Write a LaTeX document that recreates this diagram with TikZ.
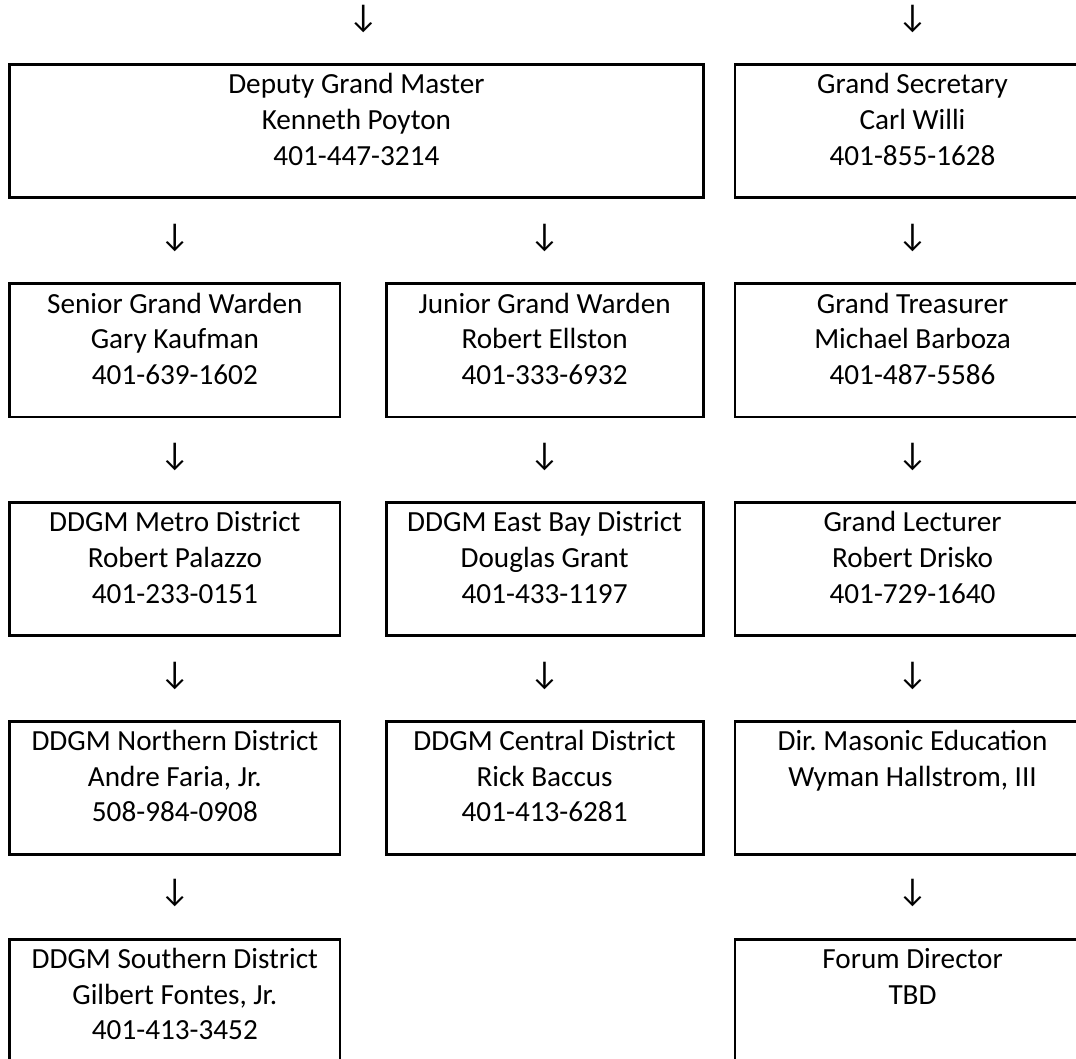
\documentclass[tikz,border=0pt]{standalone}
\usepackage{fontspec}
\setmainfont{Carlito}
\usetikzlibrary{positioning}
\frenchspacing

\newcommand{\officefont}{\fontsize{29.2pt}{35.6pt}\selectfont}

\tikzset{
	office/.style={draw, line width=2.8pt, align=center, inner sep=0pt, text height=100.4pt, text depth=32.6pt, font=\officefont},
	short/.style={office, text height=64.8pt, text depth=68.2pt},
	arr/.style={inner sep=0pt, font=\fontsize{33pt}{38pt}\selectfont},
}

\begin{document}
\begin{tikzpicture}
	\useasboundingbox (0,0) rectangle (1076pt,-1059pt);
	\clip (0,0) rectangle (1076pt,-1059pt);
	% top row
	\node[office, minimum width=693.4pt, anchor=north west] (dgm) at (8.3pt,-63.3pt) {Deputy Grand Master\\Kenneth Poyton\\401-447-3214};
	\node[office, minimum width=355.3pt, right=29pt of dgm] (gs) {Grand Secretary\\Carl Willi\\401-855-1628};
	% wardens and treasurer
	\node[office, minimum width=330.3pt, below right=83.4pt and 0pt of dgm.south west] (sgw) {Senior Grand Warden\\Gary Kaufman\\401-639-1602};
	\node[office, minimum width=317pt, below left=83.4pt and 0pt of dgm.south east] (jgw) {Junior Grand Warden\\Robert Ellston\\401-333-6932};
	\node[office, minimum width=355.3pt, below=83.4pt of gs] (gt) {Grand Treasurer\\Michael Barboza\\401-487-5586};
	% districts
	\node[office, minimum width=330.3pt, below=83pt of sgw] (metro) {DDGM Metro District\\Robert Palazzo\\401-233-0151};
	\node[office, minimum width=317pt, below=83pt of jgw] (eastbay) {DDGM East Bay District\\Douglas Grant\\401-433-1197};
	\node[office, minimum width=355.3pt, below=83pt of gt] (gl) {Grand Lecturer\\Robert Drisko\\401-729-1640};
	\node[office, minimum width=330.3pt, below=83pt of metro] (northern) {DDGM Northern District\\Andre Faria, Jr.\\508-984-0908};
	\node[office, minimum width=317pt, below=83pt of eastbay] (central) {DDGM Central District\\Rick Baccus\\401-413-6281};
	\node[short, minimum width=355.3pt, below=83pt of gl] (dme) {Dir. Masonic Education\\Wyman Hallstrom, III};
	\node[office, minimum width=330.3pt, below=82pt of northern] (southern) {DDGM Southern District\\Gilbert Fontes, Jr.\\401-413-3452};
	\node[short, minimum width=355.3pt, below=82pt of dme] (forum) {Forum Director\\TBD};
	% arrows
	\node[arr, above=30.5pt of dgm, xshift=7pt] (to-dgm) {↓};
	\node[arr, above=30.5pt of gs] (to-gs) {↓};
	\node[arr, above=30.5pt of sgw] (to-sgw) {↓};
	\node[arr, above=30.5pt of jgw] (to-jgw) {↓};
	\node[arr, above=30.5pt of gt] (to-gt) {↓};
	\node[arr, above=30.5pt of metro] (to-metro) {↓};
	\node[arr, above=30.5pt of eastbay] (to-eastbay) {↓};
	\node[arr, above=30.5pt of gl] (to-gl) {↓};
	\node[arr, above=30.5pt of northern] (to-northern) {↓};
	\node[arr, above=30.5pt of central] (to-central) {↓};
	\node[arr, above=30.5pt of dme] (to-dme) {↓};
	\node[arr, above=30.5pt of southern] (to-southern) {↓};
	\node[arr, above=30.5pt of forum] (to-forum) {↓};
\end{tikzpicture}
\end{document}
